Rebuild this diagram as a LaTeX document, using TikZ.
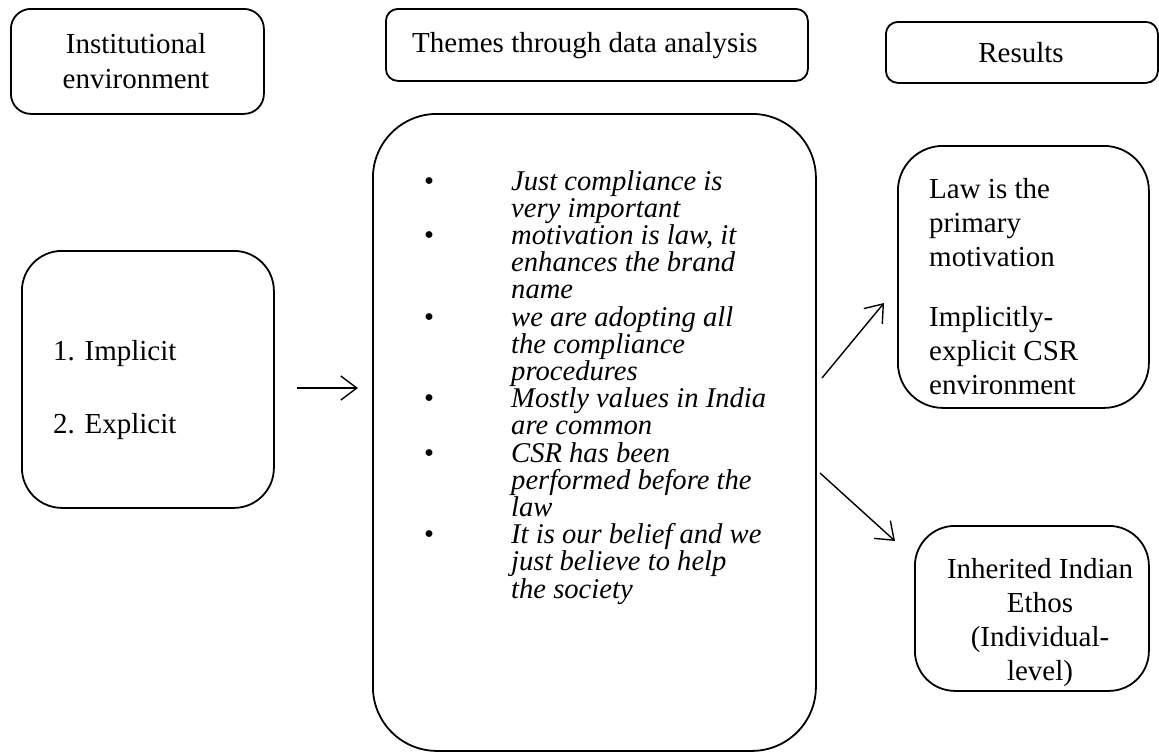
\documentclass[tikz,border=0pt]{standalone}
\usepackage{fontspec}
\setmainfont{Liberation Serif}
\usetikzlibrary{arrows.meta}
% one line of the theme list: bullet column, then the italic text
\newcommand\themeline[2]{\hbox{\makebox[87pt][l]{#1}\textit{#2}}}
\begin{document}
\begin{tikzpicture}[x=1pt,y=-1pt,
  box/.style={draw, line width=1.8pt, anchor=north west, inner sep=0pt},
  lbl/.style={font=\fontsize{29}{34}\selectfont, inner sep=0pt},
  arr/.style={line width=1.4pt, -{Straight Barb[length=16pt,width=24pt,line width=1.4pt]}}]
\useasboundingbox (0,0) rectangle (1159,753);

% column headers
\node[box, rounded corners=20pt, minimum width=253pt, minimum height=105pt] (inst) at (10,8) {};
\node[box, rounded corners=12pt, minimum width=422pt, minimum height=72pt] (themeshead) at (385,8) {};
\node[box, rounded corners=12pt, minimum width=272pt, minimum height=61pt] (reshead) at (885,21) {};

\node[lbl, anchor=base] (instA) at (136,53) {Institutional};
\node[lbl, anchor=base] (instB) at (136,88) {environment};
\node[lbl, anchor=base west] (themesT) at (412,52) {Themes through data analysis};
\node[lbl, anchor=base] (resT) at (1021,62) {Results};

% content boxes
\node[box, rounded corners=40pt, minimum width=252pt, minimum height=257pt] (env) at (21,250) {};
\node[box, rounded corners=64pt, minimum width=443pt, minimum height=637pt] (themes) at (372,113) {};
\node[box, rounded corners=45pt, minimum width=251pt, minimum height=262pt] (law) at (897,145) {};
\node[box, rounded corners=40pt, minimum width=234pt, minimum height=165pt] (ethos) at (914,525) {};

% environment types
\node[lbl, anchor=base west] (implicit) at (53,360) {1. Implicit};
\node[lbl, anchor=base west] (explicit) at (53,433) {2. Explicit};

% themes from the interviews
\node[inner sep=0pt, anchor=base west] (themelist) at (424,190) {%
  \vtop{\fontsize{28.6}{27.2}\selectfont
  \themeline{•}{Just compliance is}
  \themeline{}{very important}
  \themeline{•}{motivation is law, it}
  \themeline{}{enhances the brand}
  \themeline{}{name}
  \themeline{•}{we are adopting all}
  \themeline{}{the compliance}
  \themeline{}{procedures}
  \themeline{•}{Mostly values in India}
  \themeline{}{are common}
  \themeline{•}{CSR has been}
  \themeline{}{performed before the}
  \themeline{}{law}
  \themeline{•}{It is our belief and we}
  \themeline{}{just believe to help}
  \themeline{}{the society}}};

% results
\node[lbl, anchor=base west] (lawT) at (929,198) {%
  \begin{tabular}[t]{@{}l@{}}
  Law is the\\
  primary\\
  motivation\\[26pt]
  Implicitly-\\
  explicit CSR\\
  environment
  \end{tabular}};
\node[lbl, anchor=base] (ethosT) at (1040,578) {%
  \begin{tabular}[t]{@{}c@{}}
  Inherited Indian\\
  Ethos\\
  (Individual-\\
  level)
  \end{tabular}};

% connectors
\coordinate (h1) at (297,388);
\coordinate (h2) at (358,388);
\coordinate (u1) at (822,378);
\coordinate (u2) at (884,303);
\coordinate (d1) at (820,473);
\coordinate (d2) at (895,541);
\draw[arr] (h1) -- (h2);
\draw[arr] (u1) -- (u2);
\draw[arr] (d1) -- (d2);
\end{tikzpicture}
\end{document}
